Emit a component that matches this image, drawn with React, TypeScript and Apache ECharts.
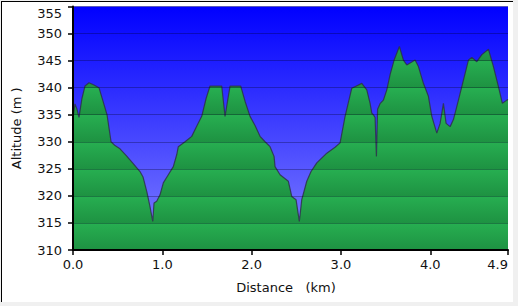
import React, { useEffect, useRef } from "react";
import * as echarts from "echarts";

// Distance along the route (km)
const dist = [
  0.0, 0.022, 0.045, 0.067, 0.1, 0.134, 0.179, 0.235, 0.291, 0.336,
  0.381, 0.426, 0.47, 0.526, 0.594, 0.672, 0.75, 0.784, 0.829, 0.862,
  0.893, 0.907, 0.937, 0.974, 1.011, 1.067, 1.123, 1.161, 1.179, 1.254,
  1.329, 1.389, 1.441, 1.49, 1.534, 1.665, 1.702, 1.758, 1.878, 1.926,
  1.982, 2.038, 2.094, 2.15, 2.206, 2.251, 2.262, 2.318, 2.411, 2.449,
  2.497, 2.534, 2.561, 2.617, 2.665, 2.729, 2.841, 2.934, 2.99, 3.046,
  3.121, 3.233, 3.289, 3.326, 3.345, 3.363, 3.382, 3.397, 3.41, 3.44,
  3.475, 3.513, 3.55, 3.595, 3.654, 3.699, 3.737, 3.83, 3.867, 3.923,
  3.979, 4.017, 4.073, 4.11, 4.147, 4.177, 4.222, 4.259, 4.315, 4.371,
  4.427, 4.465, 4.521, 4.577, 4.651, 4.707, 4.763, 4.807, 4.857, 4.87,
];

// Altitude (m)
const alt = [
  334.5, 337, 336, 334.5, 338, 340.3, 340.9, 340.5, 340.0, 337.5,
  335, 330, 329.3, 328.7, 327.5, 326, 324.5, 323.5, 320.6, 318,
  315.3, 318.7, 319, 320.2, 322.4, 323.9, 325.4, 327.6, 329.1, 330,
  331, 333, 334.7, 338, 340.3, 340.3, 334.7, 340.3, 340.3, 337.5,
  334.7, 333, 331, 330, 329.1, 327.3, 325.4, 323.9, 322.7, 319.9,
  319.3, 315.3, 319.3, 322.7, 324.5, 326.1, 327.9, 329, 329.8, 334.7,
  339.9, 340.8, 339.6, 337.1, 335.3, 335, 334.5, 327.3, 336, 337.1,
  337.7, 339.6, 342.4, 345.1, 347.6, 345.1, 344.2, 345.1, 343.9, 340.8,
  338.4, 334.7, 331.6, 333.4, 337.1, 333.4, 332.8, 334.1, 337.7, 341.4,
  345.1, 345.6, 344.8, 346.1, 347.1, 343.9, 340.2, 337.1, 337.7, 337.8,
];

const xTicks = [0, 1, 2, 3, 4, 4.87];
const xMax = 4.87;
const yMin = 310;
const yMax = 355;
const yStep = 5;

const FONT = "DejaVu Sans";
const LIGHT = [39, 175, 81];
const DARK = [30, 146, 66];

function mix(a: number[], b: number[], t: number) {
  const c = a.map((v, i) => Math.round(v + (b[i] - v) * t));
  return `rgb(${c[0]},${c[1]},${c[2]})`;
}

function greenStops() {
  const top = Math.max(...alt);
  const off = (v: number) => (top - v) / (top - yMin);
  const stops: { offset: number; color: string }[] = [];
  for (let lo = yMax - yStep; lo >= yMin; lo -= yStep) {
    const hi = lo + yStep;
    if (lo >= top) continue;
    const t = hi > top ? (hi - top) / yStep : 0;
    stops.push({ offset: Math.max(0, off(hi)), color: mix(LIGHT, DARK, t) });
    stops.push({ offset: Math.min(1, off(lo)), color: mix(LIGHT, DARK, 1) });
  }
  return stops;
}

export default function App() {
  const ref = useRef<HTMLDivElement>(null);
  useEffect(() => {
    if (!ref.current) return;
    const chart = echarts.init(ref.current, undefined, { renderer: "svg" });
    chart.setOption({
      animation: false,
      grid: {
        left: 73,
        right: 10,
        top: 6.5,
        bottom: 56,
        show: true,
        borderWidth: 0,
        backgroundColor: {
          type: "linear",
          x: 0,
          y: 0,
          x2: 0,
          y2: 1,
          colorStops: [
            { offset: 0, color: "#0000ff" },
            { offset: 1, color: "#8282ff" },
          ],
        },
      },
      xAxis: {
        type: "value",
        min: 0,
        max: xMax,
        z: 3,
        axisLine: { show: true, lineStyle: { color: "#000", width: 2 } },
        axisTick: {
          show: true,
          length: 5,
          customValues: xTicks,
          lineStyle: { color: "#000", width: 1.5 },
        },
        axisLabel: {
          customValues: xTicks,
          formatter: (v: number) => v.toFixed(1),
          color: "#111",
          fontSize: 13,
          fontFamily: FONT,
          margin: 8,
          showMaxLabel: true,
          alignMaxLabel: "right",
        },
        splitLine: { show: false },
        name: "Distance   (km)",
        nameLocation: "middle",
        nameGap: 31,
        nameTextStyle: {
          color: "#111",
          fontSize: 13,
          fontFamily: FONT,
          padding: [0, 9, 0, 0],
        },
      },
      yAxis: {
        type: "value",
        min: yMin,
        max: yMax,
        interval: yStep,
        z: 3,
        axisLine: { show: true, lineStyle: { color: "#000", width: 2 } },
        axisTick: { show: true, length: 5, lineStyle: { color: "#000", width: 1.5 } },
        axisLabel: {
          color: "#111",
          fontSize: 13,
          fontFamily: FONT,
          margin: 11,
          verticalAlignMaxLabel: "top",
        },
        splitLine: {
          show: true,
          lineStyle: { color: "rgba(0,0,30,0.3)", width: 1 },
        },
        name: "Altitude (m )",
        nameLocation: "middle",
        nameGap: 50,
        nameTextStyle: { color: "#111", fontSize: 13, fontFamily: FONT },
      },
      series: [
        {
          type: "line",
          data: dist.map((d, i) => [d, alt[i]]),
          showSymbol: false,
          symbol: "none",
          z: 2,
          lineStyle: { color: "rgba(45,45,70,0.8)", width: 1.2 },
          areaStyle: {
            opacity: 1,
            color: {
              type: "linear",
              x: 0,
              y: 0,
              x2: 0,
              y2: 1,
              colorStops: greenStops(),
            },
          },
        },
      ],
    });
    return () => chart.dispose();
  }, []);

  return (
    <div
      style={{
        position: "fixed",
        left: 0,
        top: 0,
        width: 518,
        height: 306,
        background: "#f0f0f0",
      }}
    >
      <div
        style={{
          position: "absolute",
          left: 1,
          top: 1,
          width: 512,
          height: 301,
          background: "#fff",
          borderTop: "1px solid #000",
          borderLeft: "1px solid #000",
          boxSizing: "border-box",
        }}
      />
      <div
        ref={ref}
        style={{ position: "absolute", left: 0, top: 0, width: 518, height: 306 }}
      />
    </div>
  );
}
